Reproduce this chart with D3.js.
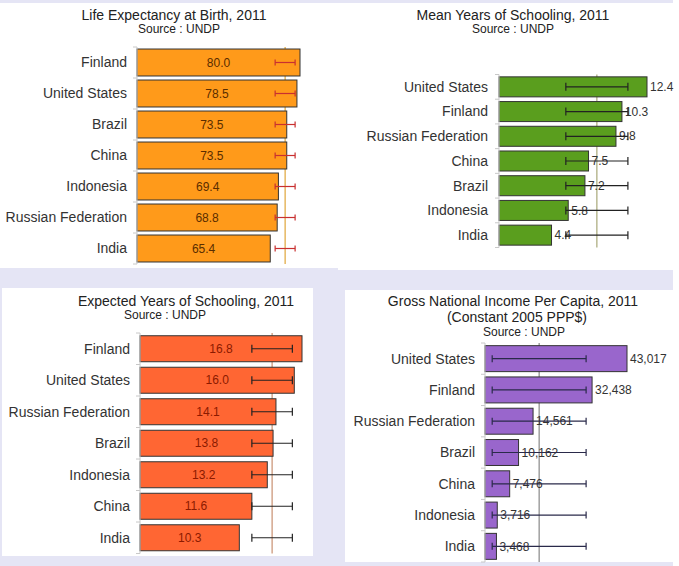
<!DOCTYPE html>
<html>
<head>
<meta charset="utf-8">
<script src="https://cdn.jsdelivr.net/npm/d3@7"></script>
<style>
  body { margin: 0; background: #fff; }
  svg { display: block; font-family: "Liberation Sans", Arial, sans-serif; }
</style>
</head>
<body>
<svg id="chart" width="679" height="566"></svg>
<script>
// UNDP 2011 indicators, four small bar charts

const lifeCountries = ['Finland', 'United States', 'Brazil', 'China', 'Indonesia', 'Russian Federation', 'India'];
const lifeValues = [80.0, 78.5, 73.5, 73.5, 69.4, 68.8, 65.4];
const lifeMean = 72.7;
const lifeRange = [67.8, 77.6];

const meanSchoolCountries = ['United States', 'Finland', 'Russian Federation', 'China', 'Brazil', 'Indonesia', 'India'];
const meanSchoolValues = [12.4, 10.3, 9.8, 7.5, 7.2, 5.8, 4.4];
const meanSchoolMean = 8.2;
const meanSchoolRange = [5.6, 10.8];

const expSchoolCountries = ['Finland', 'United States', 'Russian Federation', 'Brazil', 'Indonesia', 'China', 'India'];
const expSchoolValues = [16.8, 16.0, 14.1, 13.8, 13.2, 11.6, 10.3];
const expSchoolMean = 13.7;
const expSchoolRange = [11.6, 15.8];

const gniCountries = ['United States', 'Finland', 'Russian Federation', 'Brazil', 'China', 'Indonesia', 'India'];
const gniValues = [43017, 32438, 14561, 10162, 7476, 3716, 3468];
const gniMean = 16405;
const gniRange = [2180, 30630];

const svg = d3.select('#chart');

// lavender backdrop behind the four panels
svg.append('rect').attr('x', 0).attr('y', 0).attr('width', 673).attr('height', 566).attr('fill', '#e5e5f5');

const panels = [
  {
    countries: lifeCountries, values: lifeValues, mean: lifeMean, range: lifeRange,
    box: [0, 3, 338, 265],
    titles: [['Life Expectancy at Birth, 2011', 174, 19.5, 14], ['Source : UNDP', 179, 33, 12]],
    x0: 137, x1: 300, y: [47, 264], padIn: 0.13, padOut: 0.065, labelX: 127,
    fill: '#ff9a1a', inside: true, valueColor: '#5a2d00', errColor: '#c83030', cap: 6,
    meanColor: '#e0a53a', fmt: d3.format('.1f')
  },
  {
    countries: meanSchoolCountries, values: meanSchoolValues, mean: meanSchoolMean, range: meanSchoolRange,
    box: [338, 3, 335, 267],
    titles: [['Mean Years of Schooling, 2011', 513, 19.5, 14], ['Source : UNDP', 513, 33, 12]],
    x0: 499, x1: 647, y: [74.5, 247.5], padIn: 0.19, padOut: 0.095, labelX: 488,
    fill: '#5a9e1e', inside: false, valueColor: '#333', errColor: '#222', cap: 8,
    meanColor: '#a8a878', fmt: d3.format('.1f')
  },
  {
    countries: expSchoolCountries, values: expSchoolValues, mean: expSchoolMean, range: expSchoolRange,
    box: [2, 288, 311, 268],
    titles: [['Expected Years of Schooling, 2011', 186, 305.5, 14], ['Source : UNDP', 165, 319, 12]],
    x0: 140, x1: 302, y: [333, 553.5], padIn: 0.175, padOut: 0.087, labelX: 130,
    fill: '#ff6633', inside: true, valueColor: '#8b1a00', errColor: '#222', cap: 8,
    meanColor: '#c89070', fmt: d3.format('.1f')
  },
  {
    countries: gniCountries, values: gniValues, mean: gniMean, range: gniRange,
    box: [345, 290, 328, 272],
    titles: [['Gross National Income Per Capita, 2011', 513, 306, 14], ['(Constant 2005 PPP$)', 517, 321.5, 14], ['Source : UNDP', 524, 336, 12]],
    x0: 485, x1: 627, y: [343, 562], padIn: 0.17, padOut: 0.085, labelX: 475,
    fill: '#9966cc', inside: false, valueColor: '#333', errColor: '#2a2a4a', cap: 7,
    meanColor: '#888', fmt: d3.format(',')
  }
];

panels.forEach(drawPanel);

function drawPanel(p) {
  const g = svg.append('g');
  const [bx, by, bw, bh] = p.box;
  g.append('rect').attr('x', bx).attr('y', by).attr('width', bw).attr('height', bh).attr('fill', '#fff');

  g.selectAll('text.title')
    .data(p.titles)
    .join('text')
      .attr('class', 'title')
      .attr('x', d => d[1])
      .attr('y', d => d[2])
      .attr('text-anchor', 'middle')
      .attr('font-size', d => d[3])
      .attr('fill', '#222')
      .text(d => d[0]);

  const x = d3.scaleLinear().domain([0, d3.max(p.values)]).range([p.x0, p.x1]);
  const y = d3.scaleBand().domain(p.countries).range(p.y)
    .paddingInner(p.padIn).paddingOuter(p.padOut);
  const rows = p.countries.map((c, i) => ({ c, v: p.values[i] }));

  // average line, behind the bars
  g.append('line')
    .attr('x1', x(p.mean)).attr('x2', x(p.mean))
    .attr('y1', p.y[0]).attr('y2', p.y[1])
    .attr('stroke', p.meanColor).attr('stroke-width', 1.2);

  g.selectAll('rect.bar')
    .data(rows)
    .join('rect')
      .attr('class', 'bar')
      .attr('x', x(0))
      .attr('y', d => y(d.c))
      .attr('width', d => x(d.v) - x(0))
      .attr('height', y.bandwidth())
      .attr('fill', p.fill)
      .attr('stroke', '#333')
      .attr('stroke-width', 1);

  g.selectAll('text.val')
    .data(rows)
    .join('text')
      .attr('class', 'val')
      .attr('x', d => p.inside ? (x(0) + x(d.v)) / 2 : x(d.v) + 3)
      .attr('y', d => y(d.c) + y.bandwidth() / 2)
      .attr('dy', '0.35em')
      .attr('text-anchor', p.inside ? 'middle' : 'start')
      .attr('font-size', 12)
      .attr('fill', p.valueColor)
      .text(d => p.fmt(d.v));

  // spread bars (same range on every row)
  const err = g.selectAll('g.err')
    .data(rows)
    .join('g')
      .attr('class', 'err')
      .attr('stroke', p.errColor)
      .attr('stroke-width', 1.2);
  err.append('line')
    .attr('x1', x(p.range[0])).attr('x2', x(p.range[1]))
    .attr('y1', d => y(d.c) + y.bandwidth() / 2).attr('y2', d => y(d.c) + y.bandwidth() / 2);
  [0, 1].forEach(k => {
    err.append('line')
      .attr('x1', x(p.range[k])).attr('x2', x(p.range[k]))
      .attr('y1', d => y(d.c) + y.bandwidth() / 2 - p.cap / 2)
      .attr('y2', d => y(d.c) + y.bandwidth() / 2 + p.cap / 2);
  });

  // category axis: line plus ticks at band edges
  const edges = d3.range(p.countries.length + 1).map(i => p.y[0] + i * y.step());
  g.append('line')
    .attr('x1', x(0)).attr('x2', x(0)).attr('y1', p.y[0]).attr('y2', p.y[1])
    .attr('stroke', '#c8c8c8');
  g.selectAll('line.tick')
    .data(edges)
    .join('line')
      .attr('class', 'tick')
      .attr('x1', x(0) - 4).attr('x2', x(0))
      .attr('y1', d => d).attr('y2', d => d)
      .attr('stroke', '#c8c8c8');

  g.selectAll('text.cat')
    .data(rows)
    .join('text')
      .attr('class', 'cat')
      .attr('x', p.labelX)
      .attr('y', d => y(d.c) + y.bandwidth() / 2)
      .attr('dy', '0.35em')
      .attr('text-anchor', 'end')
      .attr('font-size', 14)
      .attr('fill', '#333')
      .text(d => d.c);
}
</script>
</body>
</html>
